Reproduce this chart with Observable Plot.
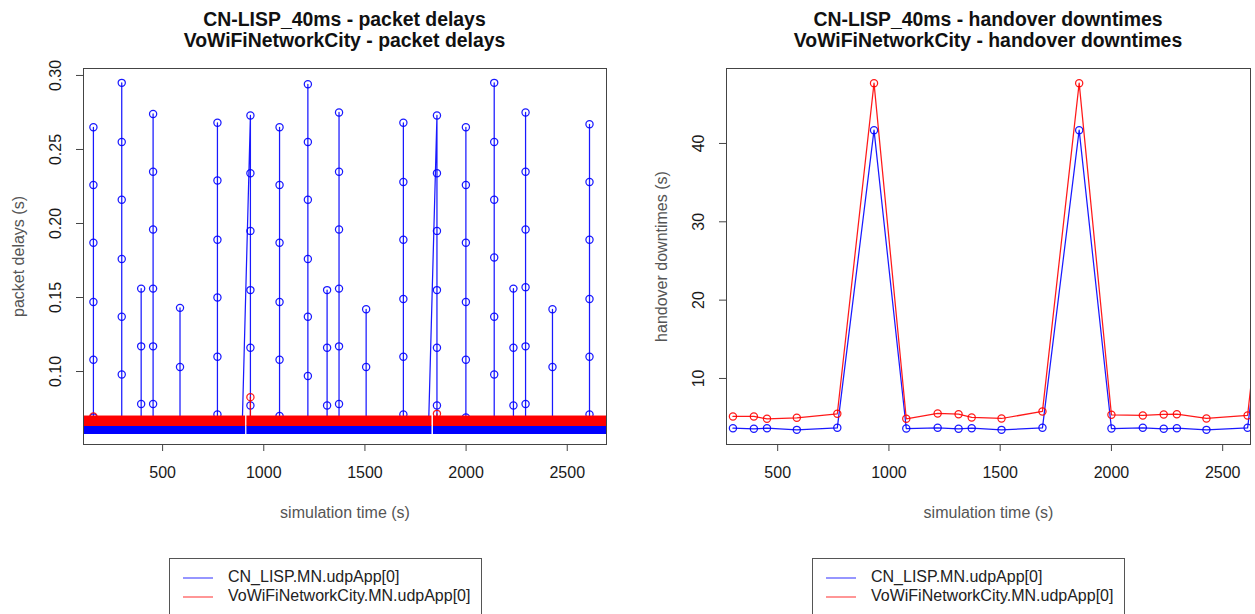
<!DOCTYPE html>
<html><head><meta charset="utf-8">
<script src="https://cdn.jsdelivr.net/npm/d3@7"></script>
<script src="https://cdn.jsdelivr.net/npm/@observablehq/plot@0.6"></script>
<style>
html,body{margin:0;padding:0;background:#fff;}
#root{position:relative;width:1255px;height:614px;overflow:hidden;font-family:"Liberation Sans",Arial,Helvetica,sans-serif;background:#fff;}
.title{position:absolute;top:9px;text-align:center;font-weight:bold;font-size:19.4px;line-height:21px;color:#111;white-space:nowrap;}
.panel{position:absolute;top:0;}
.legend{position:absolute;top:558px;height:80px;border:1px solid #555;background:#fff;box-sizing:border-box;}
.legend .row{position:absolute;font-size:16px;color:#222;white-space:nowrap;line-height:18px;}
.legend svg{position:absolute;}
</style></head><body>
<div id="root">
  <div class="title" id="t1"></div>
  <div class="title" id="t2"></div>
  <div class="panel" id="p1" style="left:0"></div>
  <div class="panel" id="p2" style="left:627px"></div>
  <div class="legend" id="l1" style="left:169px;width:313px"></div>
  <div class="legend" id="l2" style="left:812px;width:313px"></div>
</div>
<script>
// ---------- shared ----------
const seriesNames = ["CN_LISP.MN.udpApp[0]", "VoWiFiNetworkCity.MN.udpApp[0]"];
const seriesColors = ["#0000ff", "#ff0000"];
const titlesDelay = ["CN-LISP_40ms - packet delays", "VoWiFiNetworkCity - packet delays"];
const titlesDown = ["CN-LISP_40ms - handover downtimes", "VoWiFiNetworkCity - handover downtimes"];
const xTitle = "simulation time (s)";

// ---------- left panel: packet delays ----------
const delayXDomain = [109, 2694];
const delayYDomain = [0.0507, 0.3047];
const delayXTicks = [500, 1000, 1500, 2000, 2500];
const delayYTicks = [0.10, 0.15, 0.20, 0.25, 0.30];
// dense stream of packets (drawn as bands), interrupted by the two long handovers
const bandStart = [109, 934, 1856];
const bandEnd = [893, 1814, 2694];
const blueBandDelay = 0.0603;
const redBandDelayLow = 0.0657;
const redBandDelayHigh = 0.0671;
// queued packets released after each handover (CN_LISP)
const spikeTimes = [158, 298, 394, 453, 586, 771, 934, 1078, 1218, 1313, 1372, 1506, 1690, 1856, 1999, 2139, 2234, 2294, 2427, 2610];
const spikeDelays = [
  [0.265, 0.226, 0.187, 0.147, 0.108, 0.069],
  [0.295, 0.255, 0.216, 0.176, 0.137, 0.098],
  [0.156, 0.117, 0.078],
  [0.274, 0.235, 0.196, 0.156, 0.117, 0.078],
  [0.143, 0.103],
  [0.268, 0.229, 0.189, 0.150, 0.110, 0.071],
  [0.273, 0.234, 0.195, 0.155, 0.116, 0.077],
  [0.265, 0.226, 0.187, 0.147, 0.108, 0.070],
  [0.294, 0.255, 0.216, 0.176, 0.137, 0.097],
  [0.155, 0.116, 0.077],
  [0.275, 0.235, 0.196, 0.156, 0.117, 0.078],
  [0.142, 0.103],
  [0.268, 0.228, 0.189, 0.149, 0.110, 0.071],
  [0.273, 0.234, 0.195, 0.155, 0.116, 0.077],
  [0.265, 0.226, 0.187, 0.147, 0.108, 0.069],
  [0.295, 0.255, 0.216, 0.177, 0.137, 0.098],
  [0.156, 0.116, 0.077],
  [0.275, 0.235, 0.196, 0.157, 0.117, 0.078],
  [0.142, 0.103],
  [0.267, 0.228, 0.189, 0.149, 0.110, 0.071]
];
const gapLastPacket = [893, 1814];
const gapResume = [934, 1856];
const redSpikeTimes = [158, 934, 1856];
const redSpikeDelays = [0.0696, 0.0827, 0.0714];

// ---------- right panel: handover downtimes ----------
const downXDomain = [270, 2625];
const downYDomain = [1.57, 49.57];
const downXTicks = [500, 1000, 1500, 2000, 2500];
const downYTicks = [10, 20, 30, 40];
const handoverTimes = [299, 393, 452, 586, 768, 933, 1078, 1219, 1313, 1372, 1506, 1690, 1855, 2000, 2141, 2235, 2294, 2427, 2612, 2776];
const blueDowntimes = [3.65, 3.57, 3.65, 3.44, 3.70, 41.7, 3.61, 3.70, 3.57, 3.65, 3.44, 3.70, 41.7, 3.61, 3.70, 3.57, 3.65, 3.44, 3.70, 41.7];
const redDowntimes = [5.15, 5.15, 4.85, 4.98, 5.49, 47.7, 4.85, 5.53, 5.44, 5.02, 4.89, 5.79, 47.7, 5.36, 5.28, 5.40, 5.44, 4.89, 5.28, 47.7];

// ---------- build ----------
const FONT = '"Liberation Sans", Arial, Helvetica, sans-serif';
const frameColor = "#444";
const textColor = "#1a1a1a";
const labelColor = "#555";
const R = 3.6;
const SW = 1.25;

function axes(xTicks, yTicks, yFmt, yTitle) {
  return [
    Plot.axisX({ticks: xTicks, tickSize: 7, tickPadding: 15, fontSize: 16, label: null, color: textColor, stroke: frameColor, tickFormat: d3.format("d")}),
    Plot.axisY({ticks: yTicks, tickSize: 7, tickPadding: 16, tickRotate: -90, fontSize: 16, label: null, color: textColor, stroke: frameColor, tickFormat: yFmt}),
    Plot.text([xTitle], {frameAnchor: "bottom", dy: 73, lineAnchor: "bottom", text: d => d, fontSize: 16, fill: labelColor}),
    Plot.text([yTitle], {frameAnchor: "left", dx: -60, rotate: -90, lineAnchor: "bottom", textAnchor: "middle", text: d => d, fontSize: 16, fill: labelColor}),
    Plot.frame({stroke: frameColor, strokeWidth: 1})
  ];
}

// left
const bands = bandStart.map((s, i) => ({x1: s, x2: bandEnd[i]}));
const blueDots = spikeTimes.flatMap((t, i) => spikeDelays[i].map(d => ({t, d})));
const bluePaths = spikeTimes.flatMap((t, i) => {
  const g = gapResume.indexOf(t);
  const start = g >= 0 ? gapLastPacket[g] : t;
  return [{k: i, t: start, d: blueBandDelay}, ...spikeDelays[i].map(d => ({k: i, t, d})), {k: i, t, d: blueBandDelay}];
});
const redMid = (redBandDelayLow + redBandDelayHigh) / 2;
const redPaths = redSpikeTimes.flatMap((t, i) => [{k: i, t, d: redMid}, {k: i, t, d: redSpikeDelays[i]}]);
const redDots = redSpikeTimes.map((t, i) => ({t, d: redSpikeDelays[i]}));

const left = Plot.plot({
  width: 627, height: 530,
  marginLeft: 83, marginRight: 21, marginTop: 68, marginBottom: 86,
  x: {domain: delayXDomain},
  y: {domain: delayYDomain},
  style: {fontFamily: FONT, background: "transparent", overflow: "visible"},
  marks: [
    Plot.rect(bands, {x1: "x1", x2: "x2", y1: () => blueBandDelay, y2: () => blueBandDelay, insetTop: -4.2, insetBottom: -4.2, insetLeft: -3.5, insetRight: -3.5, fill: seriesColors[0], clip: true}),
    Plot.line(bluePaths, {x: "t", y: "d", z: "k", stroke: seriesColors[0], strokeWidth: SW, strokeOpacity: 0.9, clip: true}),
    Plot.dot(blueDots, {x: "t", y: "d", r: R, stroke: seriesColors[0], strokeWidth: SW, fill: "none", strokeOpacity: 0.9, clip: true}),
    Plot.rect(bands, {x1: "x1", x2: "x2", y1: () => redBandDelayLow, y2: () => redBandDelayHigh, insetTop: -4.2, insetBottom: -4.2, insetLeft: -3.5, insetRight: -3.5, fill: seriesColors[1], clip: true}),
    Plot.line(redPaths, {x: "t", y: "d", z: "k", stroke: seriesColors[1], strokeWidth: SW, strokeOpacity: 0.9, clip: true}),
    Plot.dot(redDots, {x: "t", y: "d", r: R, stroke: seriesColors[1], strokeWidth: SW, fill: "none", strokeOpacity: 0.9, clip: true}),
    ...axes(delayXTicks, delayYTicks, d3.format(".2f"), "packet delays (s)")
  ]
});
document.getElementById("p1").appendChild(left);

// right
const downData = handoverTimes.map((t, i) => ({t, b: blueDowntimes[i], r: redDowntimes[i]}));
const right = Plot.plot({
  width: 628, height: 530,
  marginLeft: 99, marginRight: 5, marginTop: 68, marginBottom: 86,
  x: {domain: downXDomain},
  y: {domain: downYDomain},
  style: {fontFamily: FONT, background: "transparent", overflow: "visible"},
  marks: [
    Plot.line(downData, {x: "t", y: "b", stroke: seriesColors[0], strokeWidth: SW, strokeOpacity: 0.9, clip: true}),
    Plot.dot(downData, {x: "t", y: "b", r: R, stroke: seriesColors[0], strokeWidth: SW, fill: "none", strokeOpacity: 0.9, clip: true}),
    Plot.line(downData, {x: "t", y: "r", stroke: seriesColors[1], strokeWidth: SW, strokeOpacity: 0.9, clip: true}),
    Plot.dot(downData, {x: "t", y: "r", r: R, stroke: seriesColors[1], strokeWidth: SW, fill: "none", strokeOpacity: 0.9, clip: true}),
    ...axes(downXTicks, downYTicks, d3.format("d"), "handover downtimes (s)")
  ]
});
document.getElementById("p2").appendChild(right);

// titles
const t1 = document.getElementById("t1");
t1.style.left = "83px"; t1.style.width = "523px";
t1.innerHTML = titlesDelay.join("<br>");
const t2 = document.getElementById("t2");
t2.style.left = "726px"; t2.style.width = "524px";
t2.innerHTML = titlesDown.join("<br>");

// legends
function legend(el) {
  seriesNames.forEach((name, i) => {
    const y = 19 + i * 19;
    const svg = document.createElementNS("http://www.w3.org/2000/svg", "svg");
    svg.setAttribute("width", 32); svg.setAttribute("height", 4);
    svg.style.left = "13px"; svg.style.top = (y - 2) + "px";
    const ln = document.createElementNS("http://www.w3.org/2000/svg", "line");
    ln.setAttribute("x1", 0); ln.setAttribute("x2", 30); ln.setAttribute("y1", 2); ln.setAttribute("y2", 2);
    ln.setAttribute("stroke", seriesColors[i]); ln.setAttribute("stroke-opacity", 0.55); ln.setAttribute("stroke-width", 1.5);
    svg.appendChild(ln);
    el.appendChild(svg);
    const row = document.createElement("div");
    row.className = "row";
    row.style.left = "58px"; row.style.top = (y - 10) + "px";
    row.textContent = name;
    el.appendChild(row);
  });
}
legend(document.getElementById("l1"));
legend(document.getElementById("l2"));
</script>
</body></html>
